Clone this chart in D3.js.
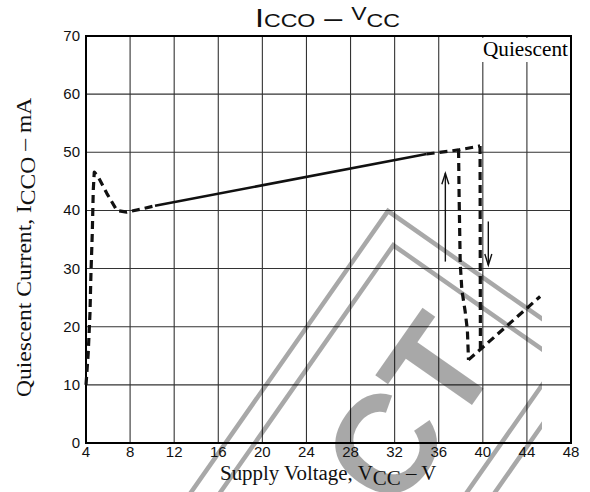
<!DOCTYPE html>
<html><head><meta charset="utf-8">
<script src="https://cdn.jsdelivr.net/npm/d3@7"></script>
<style>body{margin:0;background:#fff}svg{display:block}</style>
</head><body><svg id="c" width="590" height="492"></svg>
<script>
// ---- data ----
const xTicks=[4,8,12,16,20,24,28,32,36,40,44,48];
const yTicks=[0,10,20,30,40,50,60,70];
const startupV=[4.0,4.2,4.36,4.45,4.57,4.66,4.75,5.1,5.9,6.8,7.7,8.9,10.26];
const startupI=[10.0,15.4,22.3,29.2,36.1,43.5,46.6,45.8,42.9,40.0,39.7,40.2,40.8];
const normalV=[10.26,34.9];
const normalI=[40.8,49.7];
const upperV=[34.9,37.8,39.75];
const upperI=[49.7,50.4,51.1];
const dropV=[39.75,39.78];
const dropI=[51.1,16.2];
const returnV=[37.8,37.85,37.95,38.1,38.4,38.6,38.7];
const returnI=[50.4,42.4,30.9,26.3,22.6,19.4,14.3];
const highV=[38.7,45.2];
const highI=[14.3,25.2];
const arrowV=[36.6,40.5];
const arrowFrom=[31.2,38.1];
const arrowTo=[46.4,30.6];

const svg=d3.select("#c");
const x=d3.scaleLinear().domain([4,48]).range([86,571]);
const y=d3.scaleLinear().domain([0,70]).range([443,36]);
const SANS="'Liberation Sans', Arial, sans-serif";
const SERIF="'Liberation Serif', 'Times New Roman', serif";

svg.append("rect").attr("width",590).attr("height",492).attr("fill","#fff");

// grid
const g=svg.append("g");
g.selectAll("line.v").data(xTicks).join("line").attr("class","v")
 .attr("x1",d=>x(d)).attr("x2",d=>x(d)).attr("y1",y(0)).attr("y2",y(70))
 .attr("stroke","#333").attr("stroke-width",1.1);
g.selectAll("line.h").data(yTicks).join("line").attr("class","h")
 .attr("y1",d=>y(d)).attr("y2",d=>y(d)).attr("x1",x(4)).attr("x2",x(48))
 .attr("stroke","#333").attr("stroke-width",1.1);

// Quiescent label box
const qb=svg.append("g");
qb.append("rect").attr("x",480).attr("y",38).attr("width",90).attr("height",24).attr("fill","#fff");
const qt=qb.append("text").attr("x",0).attr("y",0).attr("font-family",SERIF).attr("font-size",20).text("Quiescent");
{const w=qt.node().getComputedTextLength();qt.attr("transform",`translate(483,56) scale(${85/w},1)`);}

// watermark
const defs=svg.append("defs");
defs.append("clipPath").attr("id","wmclip").append("rect").attr("x",0).attr("y",0).attr("width",542).attr("height",492);
const wm=svg.append("g").attr("clip-path","url(#wmclip)").append("g")
 .attr("transform","translate(388,211) rotate(-55)");
const wmc="rgba(0,0,0,0.34)";
wm.append("rect").attr("x",-900).attr("y",0).attr("width",900).attr("height",249)
 .attr("fill","none").attr("stroke",wmc).attr("stroke-width",4.5);
wm.append("rect").attr("x",-900).attr("y",24).attr("width",875).attr("height",202)
 .attr("fill","none").attr("stroke",wmc).attr("stroke-width",4.5);
wm.append("text").attr("x",-58).attr("y",180).attr("text-anchor","end")
 .attr("font-family",SANS).attr("font-weight",700).attr("font-size",140)
 .attr("fill",wmc).text("CT");

// frame
svg.append("rect").attr("x",x(4)).attr("y",y(70)).attr("width",x(48)-x(4)).attr("height",y(0)-y(70))
 .attr("fill","none").attr("stroke","#000").attr("stroke-width",2);

// curves
const line=d3.line().x(d=>x(d[0])).y(d=>y(d[1]));
const dashed=[[startupV,startupI],[upperV,upperI],[dropV,dropI],[returnV,returnI],[highV,highI]];
dashed.forEach(([vs,is])=>{
  svg.append("path").attr("d",line(d3.zip(vs,is))).attr("fill","none")
   .attr("stroke","#111").attr("stroke-width",3.2).attr("stroke-dasharray","8,5").attr("stroke-linejoin","round");
});
svg.append("path").attr("d",line(d3.zip(normalV,normalI))).attr("fill","none")
 .attr("stroke","#111").attr("stroke-width",2.6);

// arrows
arrowV.forEach((v,i)=>{
  const x0=x(v),y1=y(arrowFrom[i]),y2=y(arrowTo[i]);
  const dir=y2<y1?1:-1;
  svg.append("line").attr("x1",x0).attr("x2",x0).attr("y1",y1).attr("y2",y2)
   .attr("stroke","#111").attr("stroke-width",1.4);
  svg.append("path").attr("d",`M${x0-3.5},${y2+dir*11}L${x0},${y2}L${x0+3.5},${y2+dir*11}`)
   .attr("fill","none").attr("stroke","#111").attr("stroke-width",1.4);
});

// tick labels
svg.selectAll("text.xt").data(xTicks).join("text").attr("class","xt")
 .attr("x",d=>x(d)).attr("y",457).attr("text-anchor","middle")
 .attr("font-family",SANS).attr("font-size",15).attr("fill","#111").text(d=>d);
svg.selectAll("text.yt").data(yTicks).join("text").attr("class","yt")
 .attr("x",80).attr("y",d=>y(d)+5).attr("text-anchor","end")
 .attr("font-family",SANS).attr("font-size",15).attr("fill","#111").text(d=>d);

// title
function fitText(sel,tx,ty,targetW,rot){
  const w=sel.node().getBBox().width;
  sel.attr("transform",`translate(${tx},${ty})${rot?` rotate(${rot})`:""} scale(${targetW/w},1)`);
}
const tt=svg.append("text").attr("font-family",SANS).attr("fill","#111");
tt.append("tspan").attr("font-size",26).text("I");
tt.append("tspan").attr("font-size",18.6).text("CCO");
tt.append("tspan").attr("font-size",26).text(" \u2013 ");
tt.append("tspan").attr("font-size",18.6).attr("dy",-6.7).text("V");
tt.append("tspan").attr("font-size",18.6).attr("dy",6.7).text("CC");
fitText(tt,255,26.7,145);

// x axis title
const xt=svg.append("text").attr("font-family",SERIF).attr("font-size",20).attr("fill","#111");
xt.append("tspan").text("Supply Voltage, V");
xt.append("tspan").attr("dy",5).text("CC");
xt.append("tspan").attr("dy",-5).text(" \u2013 V");
fitText(xt,220,480,217);

// y axis title
const yt=svg.append("text").attr("font-family",SERIF).attr("font-size",20).attr("fill","#111");
yt.append("tspan").text("Quiescent Current, I");
yt.append("tspan").attr("dy",4).text("CCO");
yt.append("tspan").attr("dy",-4).text(" \u2013 mA");
fitText(yt,31,397,300,-90);
</script></body></html>
